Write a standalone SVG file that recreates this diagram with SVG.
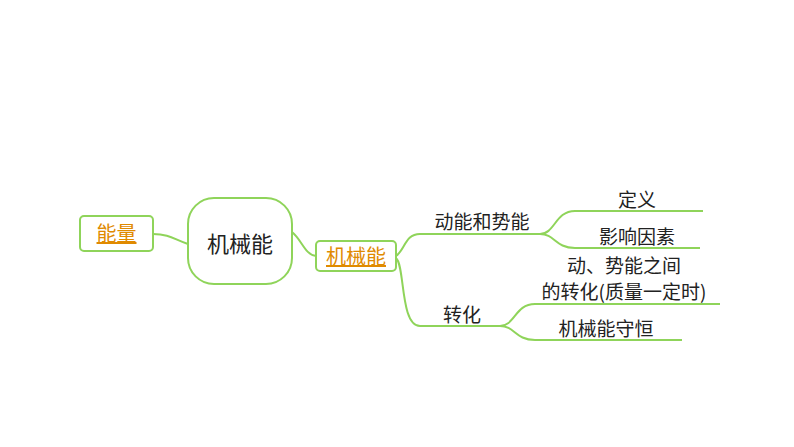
<svg xmlns="http://www.w3.org/2000/svg" width="794" height="447" viewBox="0 0 794 447">
<style>
.l{fill:none;stroke:#8fd45a;stroke-width:2}
.b{fill:#fff;stroke:#8fd45a;stroke-width:2}
.t{font-family:"Noto Sans CJK SC",sans-serif;font-size:19px;fill:#222;text-anchor:middle}
.o{font-family:"Noto Sans CJK SC",sans-serif;font-size:20px;fill:#e08a00;text-anchor:middle;text-decoration:underline}
</style>
<rect width="794" height="447" fill="#fff"/>
<g id="connectors">
<path class="l" d="M153,234 C170,234 175,240 188,244"/>
<path class="l" d="M292,232 C302,240 305,255 316,256"/>
<path class="l" d="M396,256 C405,250 405,234 420,234 L545,234"/>
<path class="l" d="M396,258 C405,265 400,326 420,326 L505,326"/>
<path class="l" d="M540,234 C555,234 555,211 575,211 L703,211"/>
<path class="l" d="M540,234 C555,234 555,248 575,248 L700,248"/>
<path class="l" d="M500,326 C515,326 515,304 535,304 L720,304"/>
<path class="l" d="M500,326 C515,326 515,340 535,340 L682,340"/>
</g>
<g id="n1"><rect class="b" x="80" y="216" width="73" height="35" rx="4"/><text class="o" x="116.5" y="241">能量</text></g>
<g id="n2"><rect class="b" x="188" y="198" width="104" height="86" rx="26"/><text class="t" x="240" y="252" style="font-size:22px">机械能</text></g>
<g id="n3"><rect class="b" x="316" y="241" width="80" height="30" rx="4"/><text class="o" x="356" y="264">机械能</text></g>
<g id="n4"><text class="t" x="482" y="229">动能和势能</text></g>
<g id="n5"><text class="t" x="462" y="322">转化</text></g>
<g id="n6"><text class="t" x="637" y="207">定义</text></g>
<g id="n7"><text class="t" x="637" y="244">影响因素</text></g>
<g id="n8"><text class="t" x="624" y="273">动、势能之间</text><text class="t" x="624" y="299">的转化(质量一定时)</text></g>
<g id="n9"><text class="t" x="606" y="336">机械能守恒</text></g>
</svg>
